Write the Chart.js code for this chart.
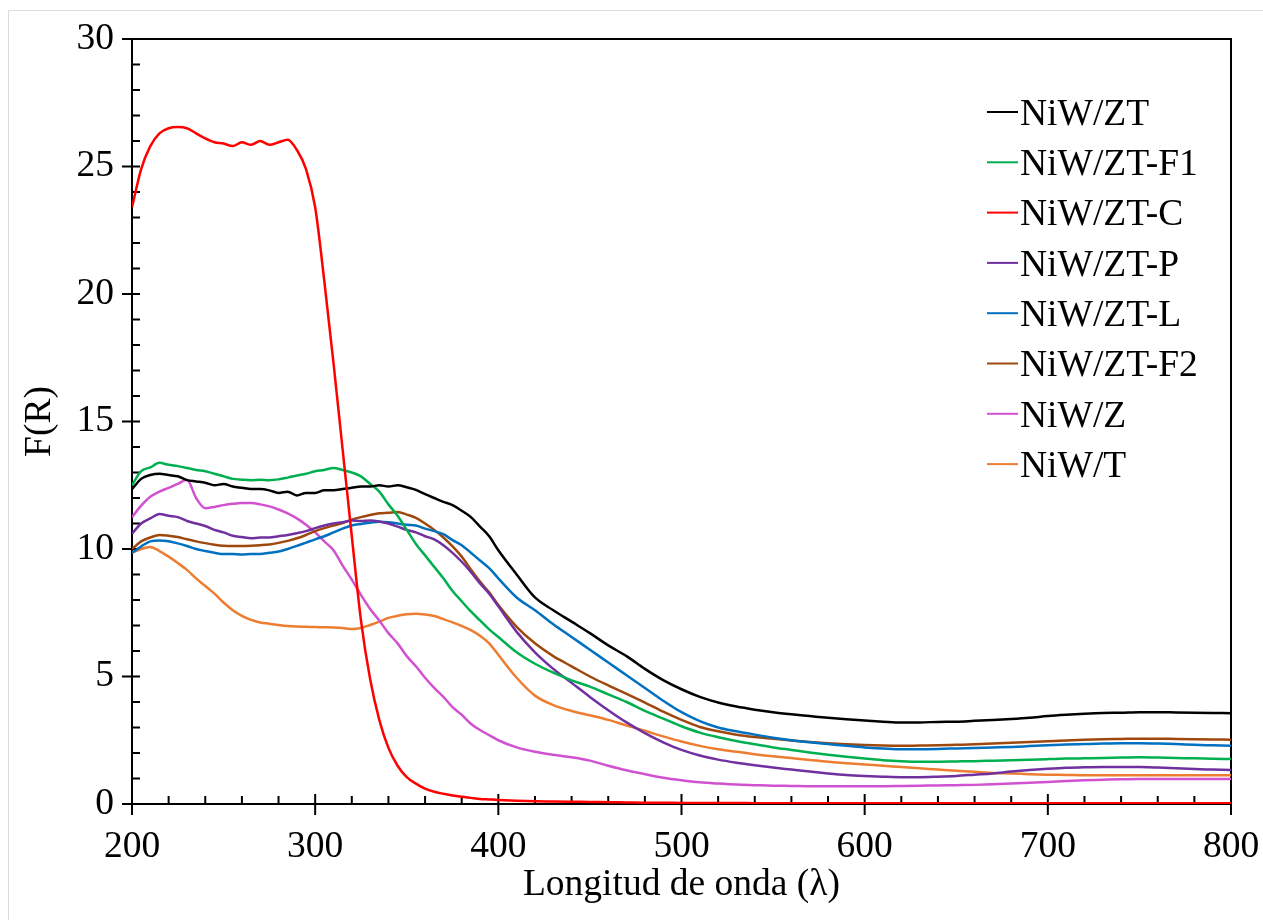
<!DOCTYPE html>
<html>
<head>
<meta charset="utf-8">
<title>F(R) vs Longitud de onda</title>
<script src="https://cdn.jsdelivr.net/npm/chart.js@4.4.1/dist/chart.umd.min.js"></script>
<style>
  html, body { margin: 0; padding: 0; background: #fff; }
  canvas { display: block; }
</style>
</head>
<body>
<canvas id="myChart" width="1263" height="920"></canvas>
<script>
// wavelength (nm): every 5 nm up to 400, then every 10 nm
const wavelength = [
  200, 205, 210, 215, 220, 225, 230, 235, 240, 245, 250, 255, 260, 265, 270, 275, 280, 285, 290, 295,
  300, 305, 310, 315, 320, 325, 330, 335, 340, 345, 350, 355, 360, 365, 370, 375, 380, 385, 390, 395, 400,
  410, 420, 430, 440, 450, 460, 470, 480, 490, 500, 510, 520, 530, 540, 550, 560, 570, 580, 590, 600,
  610, 620, 630, 640, 650, 660, 670, 680, 690, 700, 710, 720, 730, 740, 750, 760, 770, 780, 790, 800
];

const seriesNames = ['NiW/ZT', 'NiW/ZT-F1', 'NiW/ZT-C', 'NiW/ZT-P', 'NiW/ZT-L', 'NiW/ZT-F2', 'NiW/Z', 'NiW/T'];
const seriesColors = ['#000000', '#00b050', '#ff0000', '#7030a0', '#0070c0', '#9e480e', '#d052d0', '#ed7d31'];

const niwZT = [
  12.35, 12.75, 12.9, 12.95, 12.9, 12.85, 12.7, 12.65, 12.6, 12.5,
  12.55, 12.45, 12.4, 12.35, 12.35, 12.3, 12.2, 12.25, 12.1, 12.2,
  12.2, 12.3, 12.3, 12.35, 12.4, 12.45, 12.45, 12.5, 12.45, 12.5,
  12.42, 12.32, 12.15, 12.0, 11.85, 11.72, 11.5, 11.25, 10.88, 10.5, 9.95,
  9.0, 8.1, 7.6, 7.15, 6.7, 6.22, 5.8, 5.3, 4.86, 4.5,
  4.2, 3.98, 3.82, 3.7, 3.6, 3.52, 3.45, 3.38, 3.32, 3.27,
  3.23, 3.2, 3.2, 3.22, 3.23, 3.26, 3.29, 3.33, 3.38, 3.45,
  3.5, 3.54, 3.57, 3.58, 3.6, 3.6, 3.59, 3.58, 3.57, 3.56
];
const niwZTF1 = [
  12.5, 13.05, 13.2, 13.38, 13.3, 13.25, 13.18, 13.1, 13.05, 12.95,
  12.85, 12.75, 12.72, 12.7, 12.72, 12.7, 12.73, 12.8, 12.88, 12.95,
  13.05, 13.1, 13.18, 13.1, 13.0, 12.85, 12.55, 12.25, 11.75, 11.3,
  10.75, 10.2, 9.75, 9.3, 8.85, 8.35, 7.95, 7.55, 7.2, 6.85, 6.55,
  5.95, 5.5, 5.15, 4.85, 4.6, 4.3, 4.0, 3.65, 3.35, 3.05,
  2.8, 2.62, 2.47, 2.34, 2.22, 2.12, 2.02, 1.93, 1.85, 1.78,
  1.72, 1.68, 1.66, 1.66, 1.67, 1.68, 1.7, 1.72, 1.74, 1.76,
  1.78, 1.79, 1.8, 1.82, 1.83, 1.82, 1.8, 1.79, 1.77, 1.76
];
const niwZTC = [
  23.4, 24.9, 25.8, 26.3, 26.5, 26.55, 26.5, 26.3, 26.1, 25.95,
  25.9, 25.8, 25.95, 25.85, 26.0, 25.85, 25.95, 26.05, 25.65, 24.9,
  23.4, 20.5, 17.3, 13.9, 10.5, 7.2, 4.9, 3.3, 2.2, 1.5,
  1.05, 0.8, 0.6, 0.48, 0.4, 0.33, 0.28, 0.24, 0.2, 0.18, 0.16,
  0.13, 0.11, 0.1, 0.09, 0.08, 0.07, 0.06, 0.05, 0.05, 0.04,
  0.04, 0.04, 0.04, 0.03, 0.03, 0.03, 0.03, 0.03, 0.03, 0.03,
  0.03, 0.03, 0.03, 0.03, 0.03, 0.03, 0.03, 0.03, 0.03, 0.03,
  0.03, 0.03, 0.03, 0.03, 0.03, 0.03, 0.03, 0.03, 0.03, 0.03
];
const niwZTP = [
  10.6, 11.0, 11.2, 11.37, 11.3, 11.25, 11.1, 11.0, 10.9, 10.75,
  10.65, 10.52, 10.47, 10.42, 10.45, 10.45, 10.5, 10.55, 10.62, 10.7,
  10.82, 10.92, 11.0, 11.05, 11.12, 11.1, 11.12, 11.08, 11.0, 10.88,
  10.75, 10.65, 10.5, 10.38, 10.15, 9.85, 9.5, 9.1, 8.65, 8.25, 7.75,
  6.75, 5.95, 5.3, 4.75, 4.2, 3.68, 3.2, 2.78, 2.42, 2.12,
  1.9, 1.74, 1.62, 1.52, 1.43, 1.35, 1.27, 1.2, 1.14, 1.1,
  1.07, 1.05, 1.05, 1.07, 1.1, 1.15, 1.2, 1.27, 1.33, 1.38,
  1.42, 1.44, 1.45, 1.45, 1.45, 1.43, 1.4, 1.37, 1.35, 1.33
];
const niwZTL = [
  9.85, 10.1, 10.3, 10.33, 10.3, 10.22, 10.12, 10.0, 9.92, 9.85,
  9.8, 9.8, 9.78, 9.8, 9.8, 9.85, 9.9, 10.0, 10.12, 10.25,
  10.38, 10.5, 10.65, 10.8, 10.92, 10.98, 11.03, 11.07, 11.05, 11.0,
  10.95, 10.92, 10.8, 10.7, 10.58, 10.35, 10.15, 9.85, 9.55, 9.25, 8.85,
  8.1, 7.6, 7.05, 6.55, 6.05, 5.55, 5.05, 4.55, 4.05, 3.6,
  3.25, 3.0, 2.85, 2.72, 2.6, 2.5, 2.42, 2.35, 2.28, 2.22,
  2.18, 2.15, 2.15, 2.16, 2.18, 2.2, 2.22, 2.24, 2.27, 2.3,
  2.33, 2.35, 2.37, 2.38, 2.38, 2.37, 2.35, 2.32, 2.3, 2.28
];
const niwZTF2 = [
  10.0, 10.3, 10.45, 10.55, 10.52, 10.47, 10.38, 10.3, 10.23, 10.17,
  10.13, 10.12, 10.12, 10.13, 10.15, 10.18, 10.24, 10.32, 10.42, 10.55,
  10.7, 10.82, 10.92, 11.02, 11.15, 11.25, 11.33, 11.4, 11.42, 11.45,
  11.35, 11.22, 11.0, 10.75, 10.45, 10.1, 9.7, 9.2, 8.72, 8.3, 7.8,
  6.95, 6.3, 5.8, 5.4, 5.0, 4.65, 4.32, 3.98, 3.62, 3.3,
  3.02, 2.85, 2.72, 2.63, 2.56, 2.49, 2.43, 2.38, 2.34, 2.31,
  2.29, 2.28, 2.29, 2.3, 2.32, 2.34, 2.37, 2.4, 2.43, 2.46,
  2.49, 2.52, 2.54, 2.55, 2.56, 2.56, 2.55, 2.54, 2.53, 2.52
];
const niwZ = [
  11.25, 11.7, 12.05, 12.25, 12.4, 12.55, 12.72, 12.0, 11.6, 11.65,
  11.72, 11.77, 11.8, 11.8, 11.75, 11.67, 11.55, 11.4, 11.2, 10.95,
  10.65, 10.3, 9.95, 9.35, 8.8, 8.2, 7.65, 7.2, 6.7, 6.3,
  5.8, 5.4, 4.95, 4.55, 4.2, 3.8, 3.5, 3.15, 2.9, 2.7, 2.5,
  2.22, 2.05, 1.93, 1.83, 1.7, 1.5, 1.32, 1.17, 1.03, 0.93,
  0.85, 0.8, 0.76, 0.74, 0.72, 0.71, 0.7, 0.7, 0.7, 0.7,
  0.7, 0.71, 0.72, 0.73, 0.74, 0.75, 0.77, 0.8, 0.83, 0.86,
  0.9, 0.93, 0.95, 0.97, 0.98, 0.98, 0.98, 0.98, 0.98, 0.98
];
const niwT = [
  9.85, 10.0, 10.08, 9.92, 9.7, 9.45, 9.18, 8.85, 8.55, 8.25,
  7.9, 7.6, 7.38, 7.22, 7.12, 7.07, 7.02, 6.98, 6.96, 6.95,
  6.94, 6.93, 6.92, 6.9, 6.86, 6.9, 7.02, 7.15, 7.3, 7.38,
  7.44, 7.46, 7.43, 7.37, 7.25, 7.12, 6.98, 6.82, 6.6, 6.3, 5.85,
  4.95, 4.25, 3.88, 3.65, 3.48, 3.3, 3.08, 2.87, 2.65, 2.45,
  2.28, 2.15, 2.05, 1.95, 1.87, 1.8, 1.73, 1.66, 1.6, 1.55,
  1.5, 1.45, 1.4, 1.35, 1.3, 1.26, 1.22, 1.2, 1.17, 1.15,
  1.14, 1.13, 1.13, 1.13, 1.13, 1.13, 1.13, 1.13, 1.13, 1.13
];

const allSeries = [niwZT, niwZTF1, niwZTC, niwZTP, niwZTL, niwZTF2, niwZ, niwT];
const xTicks = [200, 300, 400, 500, 600, 700, 800];
const yTicks = [0, 5, 10, 15, 20, 25, 30];

const serif = "'Liberation Serif', 'Times New Roman', serif";
const txtFont = { family: serif, size: 37.5 };

// box, axis lines and tick marks (majors cross the axis, minors inside)
const frameTicks = {
  id: 'frameTicks',
  beforeDraw(chart) {
    const c = chart.ctx;
    c.save();
    c.strokeStyle = '#dcdcdc';
    c.lineWidth = 1;
    c.beginPath();
    c.moveTo(8.5, 920); c.lineTo(8.5, 10.5); c.lineTo(1263, 10.5);
    c.stroke();
    c.restore();
  },
  beforeDatasetsDraw(chart) {
    const { ctx: c, chartArea: a, scales: { x, y } } = chart;
    c.save();
    c.strokeStyle = '#000';
    c.lineWidth = 2;
    c.beginPath();
    c.moveTo(a.left, a.top); c.lineTo(a.right, a.top); c.lineTo(a.right, a.bottom);
    c.moveTo(a.left, a.top); c.lineTo(a.left, a.bottom); c.lineTo(a.right, a.bottom);
    for (let v = 0; v <= 30; v += 1) {
      const py = y.getPixelForValue(v);
      const major = yTicks.includes(v);
      c.moveTo(a.left - (major ? 10 : 0), py);
      c.lineTo(a.left + 8, py);
    }
    for (let v = 200; v <= 800; v += 20) {
      const px = x.getPixelForValue(v);
      const major = xTicks.includes(v);
      c.moveTo(px, a.bottom + (major ? 11 : 0));
      c.lineTo(px, a.bottom - (major ? 10 : 8));
    }
    c.stroke();
    c.restore();
  }
};

// legend drawn as short line + label, inside the plot on the right
const sideLegend = {
  id: 'sideLegend',
  afterDraw(chart) {
    const c = chart.ctx;
    c.save();
    c.font = '37.5px ' + serif;
    c.textBaseline = 'middle';
    c.textAlign = 'left';
    chart.data.datasets.forEach((ds, i) => {
      const yy = 112 + i * 50.3;
      c.strokeStyle = ds.borderColor;
      c.lineWidth = 2;
      c.beginPath();
      c.moveTo(987, yy);
      c.lineTo(1018, yy);
      c.stroke();
      c.fillStyle = '#000';
      c.fillText(ds.label, 1020, yy + 3);
    });
    c.restore();
  }
};

const ctx = document.getElementById('myChart');

new Chart(ctx, {
  type: 'line',
  data: {
    datasets: seriesNames.map((name, k) => ({
      label: name,
      data: wavelength.map((w, i) => ({ x: w, y: allSeries[k][i] })),
      borderColor: seriesColors[k],
      backgroundColor: seriesColors[k],
      borderWidth: 2.5,
      pointRadius: 0,
      cubicInterpolationMode: 'monotone',
      order: name === 'NiW/ZT-C' ? -1 : 0
    }))
  },
  options: {
    responsive: false,
    animation: false,
    layout: { padding: { top: 39, right: 32, left: 0, bottom: 0 } },
    scales: {
      x: {
        type: 'linear',
        min: 200,
        max: 800,
        afterFit: s => { s.height = 116; s.paddingLeft = 0; s.paddingRight = 0; },
        afterBuildTicks: s => { s.ticks = xTicks.map(v => ({ value: v })); },
        ticks: { font: txtFont, color: '#000', padding: 21, maxRotation: 0, autoSkip: false },
        grid: { display: false, drawTicks: false },
        border: { display: false },
        title: { display: true, text: 'Longitud de onda (λ)', font: txtFont, color: '#000', padding: { top: 0, bottom: 12 } }
      },
      y: {
        min: 0,
        max: 30,
        afterFit: s => { s.width = 132; s.paddingTop = 0; s.paddingBottom = 0; },
        afterBuildTicks: s => { s.ticks = yTicks.map(v => ({ value: v })); },
        ticks: { font: txtFont, color: '#000', padding: 18 },
        grid: { display: false, drawTicks: false },
        border: { display: false },
        title: { display: true, text: 'F(R)', font: txtFont, color: '#000', padding: { top: 18, bottom: 0 } }
      }
    },
    plugins: {
      legend: { display: false },
      tooltip: { enabled: false }
    }
  },
  plugins: [frameTicks, sideLegend]
});
</script>
</body>
</html>
